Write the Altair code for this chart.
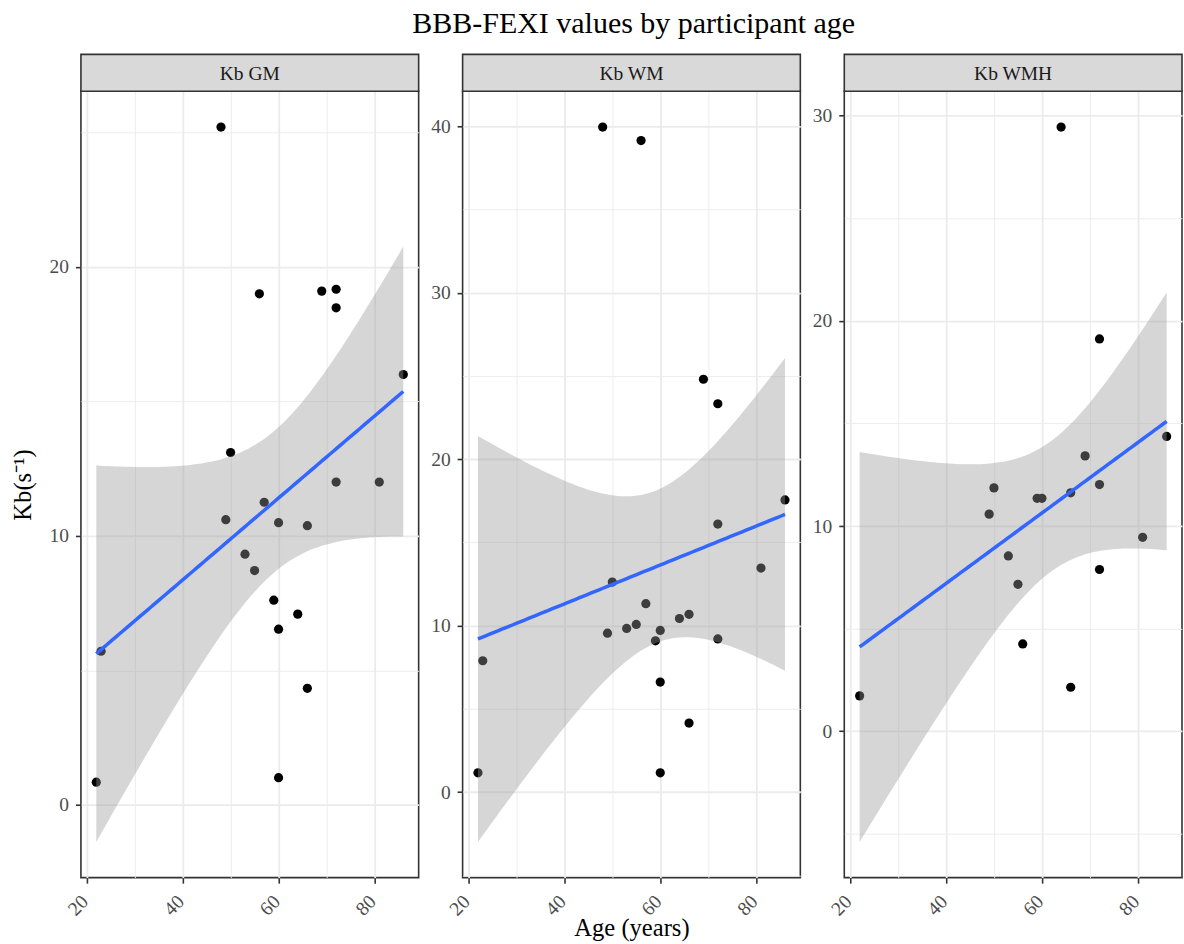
import altair as alt
import numpy as np
import pandas as pd

# ---- data ----
ages = [22, 23, 48, 49, 50, 53, 55, 56, 57, 59, 60, 60, 60, 64, 66, 66, 69, 72, 72, 72, 81, 86]
kb_gm = [0.84, 5.71, 25.2, 10.6, 13.1, 9.32, 8.71, 19.0, 11.25, 7.61, 10.49, 6.53, 1.01,
         7.09, 10.38, 4.33, 19.1, 19.17, 18.48, 12.0, 12.0, 16.0]
kb_wm = [1.16, 7.89, 39.95, 9.55, 12.62, 9.83, 10.07, 39.14, 11.32, 9.09, 9.71, 6.61, 1.16,
         10.43, 10.68, 4.15, 24.8, 23.33, 16.1, 9.2, 13.46, 17.55]
kb_wmh = [1.72, None, None, 10.58, 11.86, 8.54, 7.16, 4.25, None, 11.35, 11.35, None, None,
          29.45, 11.62, 2.14, 13.42, 19.12, 12.02, 7.88, 9.45, 14.37]
panels = ["Kb GM", "Kb WM", "Kb WMH"]
title_text = "BBB-FEXI values by participant age"
x_title = "Age (years)"
y_title = "Kb(s\u207b\u00b9)"

# two-sided 95% t quantiles by residual degrees of freedom
T975 = {15: 2.131450, 20: 2.085963}

FONT = "Liberation Serif"
W, H = 338, 787
STRIP = 37


def smooth(x, y):
    x = np.asarray(x, float)
    y = np.asarray(y, float)
    n = len(x)
    b1, b0 = np.polyfit(x, y, 1)
    resid = y - (b0 + b1 * x)
    s = np.sqrt((resid ** 2).sum() / (n - 2))
    xbar = x.mean()
    sxx = ((x - xbar) ** 2).sum()
    xs = np.linspace(x.min(), x.max(), 80)
    fit = b0 + b1 * xs
    se = s * np.sqrt(1.0 / n + (xs - xbar) ** 2 / sxx)
    t = T975[n - 2]
    return pd.DataFrame({"age": xs, "fit": fit, "lo": fit - t * se, "hi": fit + t * se})


def cond(test, minor, major):
    return {"condition": {"test": test, "value": minor}, "value": major}


def panel(label, values, show_y, show_x):
    pts = pd.DataFrame({"age": ages, "kb": values}).dropna()
    sm = smooth(pts["age"], pts["kb"])
    xmin, xmax = pts["age"].min(), pts["age"].max()
    xr = xmax - xmin
    xdom = [xmin - 0.05 * xr, xmax + 0.05 * xr]
    ylo = min(pts["kb"].min(), sm["lo"].min())
    yhi = max(pts["kb"].max(), sm["hi"].max())
    yr = yhi - ylo
    ydom = [ylo - 0.05 * yr, yhi + 0.05 * yr]
    yvals = [v for v in range(-50, 60, 5) if ydom[0] <= v <= ydom[1]]
    xvals = [v for v in range(0, 110, 10) if xdom[0] <= v <= xdom[1]]

    ymin_test = "datum.value % 10 !== 0"
    xmin_test = "datum.value % 20 !== 0"

    xaxis = dict(
        values=xvals, grid=True, domain=False, labelFlush=False,
        labelExpr="datum.value % 20 === 0 ? datum.label : ''",
        gridWidth=cond(xmin_test, 0.9, 1.8),
        tickOpacity=cond(xmin_test, 0, 1),
        labelAngle=315, labelAlign="right", labelBaseline="middle",
        labelPadding=15, labelOffset=-2,
    )
    if show_x:
        xaxis["title"] = x_title
        xaxis["titleY"] = 58
        xaxis["titleBaseline"] = "alphabetic"
    else:
        xaxis["title"] = None
    yaxis = dict(
        values=yvals, grid=True, domain=False,
        labelExpr="datum.value % 10 === 0 ? datum.label : ''",
        gridWidth=cond(ymin_test, 0.9, 1.8),
        tickOpacity=cond(ymin_test, 0, 1),
        labelPadding=7,
    )
    if show_y:
        yaxis["title"] = y_title
        yaxis["titleX"] = -45.4
    else:
        yaxis["title"] = None

    xenc = alt.X("age:Q", scale=alt.Scale(domain=xdom, nice=False, zero=False), axis=alt.Axis(**xaxis))
    yscale = alt.Scale(domain=ydom, nice=False, zero=False)

    points = alt.Chart(pts).mark_circle(size=85, color="black", opacity=1).encode(
        x=xenc, y=alt.Y("kb:Q", scale=yscale, axis=alt.Axis(**yaxis))
    )
    band = alt.Chart(sm).mark_area(color="#999999", opacity=0.4).encode(
        x="age:Q", y="lo:Q", y2="hi:Q"
    )
    line = alt.Chart(sm).mark_line(color="#3366FF", strokeWidth=3.5).encode(
        x="age:Q", y="fit:Q"
    )
    lab = pd.DataFrame({"label": [label]})
    strip = alt.Chart(lab).mark_rect(fill="#d9d9d9", stroke="#333333", strokeWidth=1.6).encode(
        x=alt.value(0), x2=alt.value(W), y=alt.value(-STRIP), y2=alt.value(0)
    )
    strip_text = alt.Chart(lab).mark_text(
        font=FONT, fontSize=19.5, color="#1a1a1a", align="center", baseline="middle"
    ).encode(x=alt.value(W / 2), y=alt.value(-STRIP / 2 + 1), text="label:N")

    return alt.layer(points, band, line, strip, strip_text).properties(width=W, height=H)


p1 = panel(panels[0], kb_gm, True, False)
p2 = panel(panels[1], kb_wm, False, True)
p3 = panel(panels[2], kb_wmh, False, False)

chart = alt.hconcat(p1, p2, p3, spacing=44, bounds="flush").properties(
    title=alt.TitleParams(
        title_text, font=FONT, fontSize=30, fontWeight="normal", color="black",
        anchor="middle", offset=14, dx=37,
    ),
    padding={"left": 9, "top": 8, "right": 0, "bottom": 0},
).configure_view(
    stroke="#333333", strokeWidth=1.6
).configure_axis(
    labelFont=FONT, labelFontSize=19.5, labelColor="#4d4d4d",
    titleFont=FONT, titleFontSize=24.6, titleFontWeight="normal", titleColor="black",
    tickColor="#333333", tickWidth=1.6, tickSize=5.5,
    gridColor="#ebebeb",
)

chart.save("out.html", embed_options={"renderer": "svg", "actions": False})
